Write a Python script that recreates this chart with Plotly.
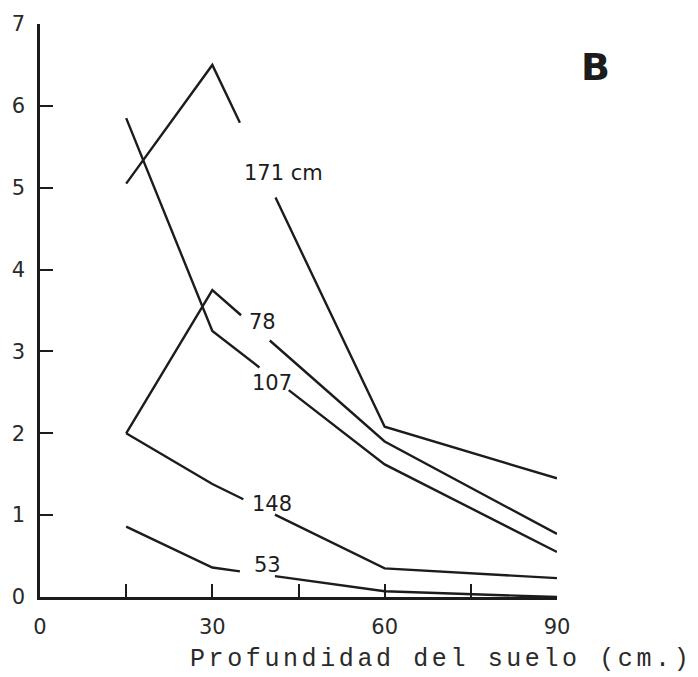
import numpy as np
import plotly.graph_objects as go

# Data
depth = [15, 30, 60, 90]
series_names = ["171 cm", "107", "78", "148", "53"]
v171 = [5.05, 6.50, 2.08, 1.45]
v107 = [5.85, 3.25, 1.62, 0.55]
v78 = [2.00, 3.75, 1.90, 0.77]
v148 = [2.00, 1.38, 0.35, 0.23]
v53 = [0.86, 0.36, 0.07, 0.00]
series_values = [v171, v107, v78, v148, v53]

x_ticks = [0, 15, 30, 45, 60, 75, 90]
x_ticktext = ["0", "", "30", "", "60", "", "90"]
y_ticks = [0, 1, 2, 3, 4, 5, 6, 7]

# style: where each line is interrupted by its label, and label positions
gaps = [(34.8, 41.0), (38.2, 43.3), (35.0, 40.0), (35.4, 40.9), (34.8, 40.9)]
label_pos = [(42.4, 5.18), (40.4, 2.62), (38.7, 3.36), (40.4, 1.14), (39.6, 0.39)]

INK = "#1c1c1c"
SANS = "DejaVu Sans"

fig = go.Figure()
for name, vals, (g0, g1) in zip(series_names, series_values, gaps):
    xs, ys = [], []
    for xv, yv in zip(depth, vals):
        if xv < g0:
            xs.append(xv); ys.append(yv)
    xs.append(g0); ys.append(float(np.interp(g0, depth, vals)))
    xs.append(None); ys.append(None)
    xs.append(g1); ys.append(float(np.interp(g1, depth, vals)))
    for xv, yv in zip(depth, vals):
        if xv > g1:
            xs.append(xv); ys.append(yv)
    fig.add_trace(go.Scatter(x=xs, y=ys, mode="lines", name=name,
                             line=dict(color=INK, width=2.4),
                             connectgaps=False, showlegend=False,
                             cliponaxis=False))

for name, (lx, ly) in zip(series_names, label_pos):
    fig.add_annotation(x=lx, y=ly, xref="x", yref="y", text=name,
                       showarrow=False, xanchor="center", yanchor="middle",
                       font=dict(family=SANS, size=21, color=INK))

fig.add_annotation(x=1.075, y=0.925, xref="paper", yref="paper", text="<b>B</b>",
                   showarrow=False, xanchor="center", yanchor="middle",
                   font=dict(family=SANS, size=38, color=INK))

fig.add_annotation(x=0.776, y=-0.109, xref="paper", yref="paper",
                   text='<span style="letter-spacing:3.6px">Profundidad del suelo (cm.)</span>',
                   showarrow=False, xanchor="center", yanchor="middle",
                   font=dict(family="Liberation Mono", size=25, color="#2a2a2a"))

fig.update_layout(
    width=698, height=677,
    margin=dict(l=37, r=141, t=20, b=80),
    paper_bgcolor="white", plot_bgcolor="white",
    xaxis=dict(range=[0, 90], tickvals=x_ticks, ticktext=x_ticktext,
               ticks="inside", ticklen=13, tickwidth=2.2, tickcolor=INK,
               showline=True, linecolor=INK, linewidth=2.6,
               showgrid=False, zeroline=False,
               tickfont=dict(family=SANS, size=21, color="#2a2a2a"),
               ticklabelstandoff=9),
    yaxis=dict(range=[0, 7], tickvals=y_ticks,
               ticks="inside", ticklen=13, tickwidth=2.2, tickcolor=INK,
               showline=True, linecolor=INK, linewidth=2.6,
               showgrid=False, zeroline=False,
               tickfont=dict(family=SANS, size=21, color="#2a2a2a"),
               ticklabelstandoff=8),
)

fig.write_html("out.html")
